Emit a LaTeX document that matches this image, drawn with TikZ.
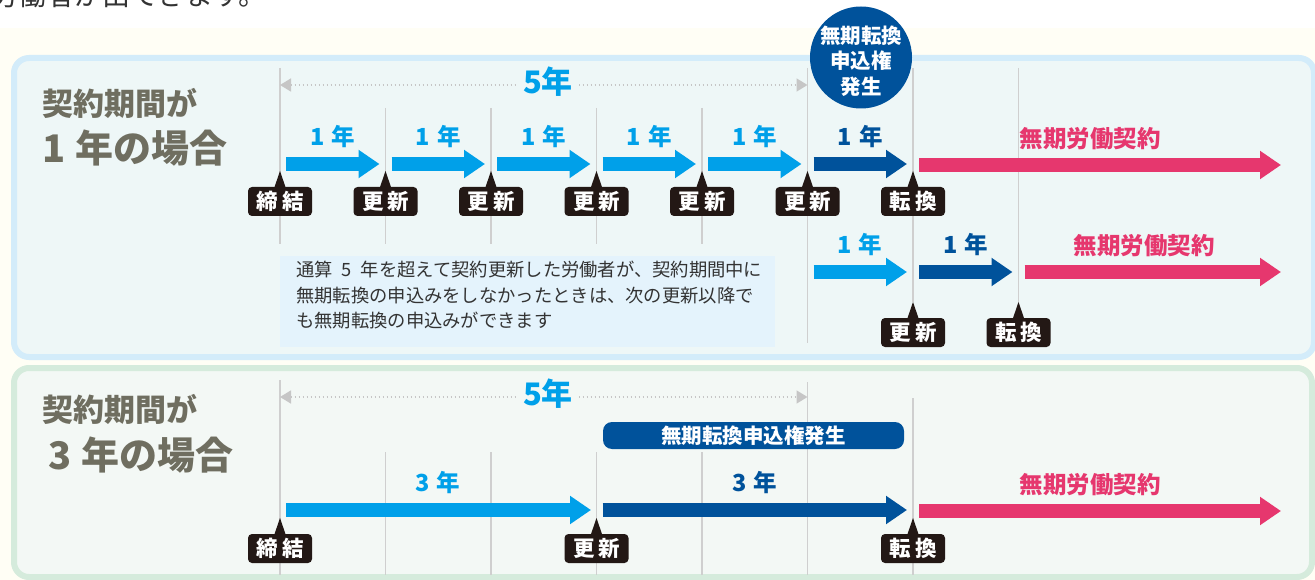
\documentclass[tikz,border=0pt]{standalone}
\usepackage{fontspec}
\newfontfamily\jp{Noto Sans CJK JP}
\usetikzlibrary{arrows.meta}
\definecolor{lb}{HTML}{00A0E9}
\definecolor{db}{HTML}{00529B}
\definecolor{pk}{HTML}{E6376E}
\definecolor{lab}{HTML}{231815}
\definecolor{ttl}{HTML}{6F6E60}
\definecolor{pAf}{HTML}{EEF7F7}
\definecolor{pAb}{HTML}{D3ECFA}
\definecolor{pBf}{HTML}{F3F8F5}
\definecolor{pBb}{HTML}{D5EBDC}
\definecolor{cream}{HTML}{FFFEF5}
\definecolor{notef}{HTML}{E4F3FC}
\definecolor{gridc}{HTML}{CFCFCF}
\definecolor{dotc}{HTML}{C6C6C6}
\definecolor{txt}{HTML}{333333}
\tikzset{
  fat/.style={line width=14pt,-{Triangle[length=21pt,width=27pt]}},
  gl/.style={draw=gridc,line width=1.3pt},
  tagbox/.style={fill=lab,text=white,rounded corners=4pt,minimum width=64pt,minimum height=29pt,inner sep=0pt,font=\jp\bfseries\fontsize{21.5}{21.5}\selectfont},
  yr/.style={font=\jp\bfseries\fontsize{23.5}{23.5}\selectfont},
  five/.style={font=\jp\bfseries\fontsize{31}{31}\selectfont,text=lb,inner sep=6pt},
  dotarrow/.style={draw=dotc,line width=1.6pt,dash pattern=on 1.6pt off 2.4pt,{Triangle[length=11pt,width=13pt]}-{Triangle[length=11pt,width=13pt]}},
  ttlA/.style={font=\jp\bfseries\fontsize{31}{31}\selectfont,text=ttl,anchor=west,inner sep=0pt},
  ttlB/.style={font=\jp\bfseries\fontsize{38}{38}\selectfont,text=ttl,anchor=west,inner sep=0pt},
  pinkt/.style={font=\jp\bfseries\fontsize{23.5}{23.5}\selectfont,text=pk},
}
\newcommand\tagnode[4]{%
  \fill[lab] ({#2-6.5},{#3+19}) -- ({#2},{#3}) -- ({#2+6.5},{#3+19}) -- cycle;
  \node[tagbox] (#1) at ({#2},{#3+30.5}) {#4};
}
\begin{document}
\begin{tikzpicture}[x=1pt,y=-1pt]
\useasboundingbox (0,0) rectangle (1315,580);
\fill[cream] (0,28) rectangle (1315,580);
\begin{scope}
\clip (0,0) rectangle (1315,580);
\node[anchor=base west,inner sep=0pt,text=txt,font=\jp\fontsize{28}{28}\selectfont] (cut) at (-10,6) {労働者が出てきます。};
% panels
\draw[pAb,line width=6pt,fill=pAf,rounded corners=15pt] (14,58) rectangle (1314,357);
\draw[pBb,line width=6pt,fill=pBf,rounded corners=15pt] (14,368) rectangle (1312,577);
\end{scope}

% ---------- top panel ----------
\node[ttlA] (tA1) at (42,103) {契約期間が};
\node[ttlB] (tA2) at (42,148) {1\hspace{10pt}年の場合};

% grid lines
\draw[gl] (280,68) -- (280,244);
\foreach \gx in {385.5,491,596.5,702} {\draw[gl] (\gx,108) -- (\gx,244);}
\draw[gl] (807.5,68) -- (807.5,343);
\draw[gl] (913,68) -- (913,302);
\draw[gl] (1018.5,68) -- (1018.5,302);

% 5 years
\coordinate (dAa) at (280,85);
\coordinate (dAb) at (807.5,85);
\draw[dotarrow] (dAa) -- (dAb);
\node[five,fill=pAf] (fA) at (548,82) {5年};

% circle
\node[circle,fill=db,minimum size=102pt,inner sep=0pt] (circ) at (861,57.5) {};
\node[text=white,align=center,font=\jp\bfseries\fontsize{20.5}{25.5}\selectfont] (circt) at (861,61) {無期転換\\申込権\\発生};

% row 1 arrows
\foreach \i/\xa/\xb/\cc in {1/286/379.5/lb,2/391.5/485/lb,3/497/590.5/lb,4/602.5/696/lb,5/708/801.5/lb,6/813.5/907/db}{
  \coordinate (ra\i) at (\xa,164);
  \coordinate (rb\i) at (\xb,164);
  \draw[fat,\cc] (ra\i) -- (rb\i);
  \node[yr,text=\cc] (ry\i) at ({(\xa+\xb)/2},137) {1\hspace{7pt}年};
}
\coordinate (rp1) at (919,165);
\coordinate (rp2) at (1281,165);
\draw[fat,pk] (rp1) -- (rp2);
\node[pinkt] (pkA) at (1090,139) {無期労働契約};

\tagnode{tgA0}{280}{171}{締\hspace{4pt}結}
\tagnode{tgA1}{385.5}{171}{更\hspace{4pt}新}
\tagnode{tgA2}{491}{171}{更\hspace{4pt}新}
\tagnode{tgA3}{596.5}{171}{更\hspace{4pt}新}
\tagnode{tgA4}{702}{171}{更\hspace{4pt}新}
\tagnode{tgA5}{807.5}{171}{更\hspace{4pt}新}
\tagnode{tgA6}{913}{171}{転\hspace{4pt}換}

% row 2
\coordinate (sa1) at (813.5,272);
\coordinate (sb1) at (907,272);
\coordinate (sa2) at (919,272);
\coordinate (sb2) at (1012.5,272);
\coordinate (sa3) at (1024.5,272);
\coordinate (sb3) at (1281,272);
\draw[fat,lb] (sa1) -- (sb1);
\draw[fat,db] (sa2) -- (sb2);
\draw[fat,pk] (sa3) -- (sb3);
\node[yr,text=lb] (sy1) at (860,245) {1\hspace{7pt}年};
\node[yr,text=db] (sy2) at (966,245) {1\hspace{7pt}年};
\node[pinkt] (pkB) at (1144,246) {無期労働契約};
\tagnode{tgB1}{913}{302}{更\hspace{4pt}新}
\tagnode{tgB2}{1018.5}{302}{転\hspace{4pt}換}

% note
\node[fill=notef,minimum width=495pt,minimum height=91pt,inner sep=0pt] (notebox) at (527.5,301.5) {};
\node[anchor=north west,inner sep=0pt,align=left,text=txt,font=\jp\fontsize{18.3}{25.5}\selectfont] (notet) at (296,261) {通算\hspace{9pt}5\hspace{9pt}年を超えて契約更新した労働者が、契約期間中に\\無期転換の申込みをしなかったときは、次の更新以降で\\も無期転換の申込みができます};

% ---------- bottom panel ----------
\node[ttlA] (tB1) at (42,409) {契約期間が};
\node[ttlB] (tB2) at (48,455) {3\hspace{10pt}年の場合};

\draw[gl] (280,380) -- (280,575);
\foreach \gx in {385.5,491,596.5,702} {\draw[gl] (\gx,452) -- (\gx,575);}
\draw[gl] (807.5,382) -- (807.5,575);
\draw[gl] (913,398) -- (913,575);

\coordinate (dBa) at (280,397);
\coordinate (dBb) at (807.5,397);
\draw[dotarrow] (dBa) -- (dBb);
\node[five,fill=pBf] (fB) at (548,394) {5年};

\node[fill=db,rounded corners=9pt,minimum width=301pt,minimum height=27pt,inner sep=0pt,text=white,font=\jp\bfseries\fontsize{20.5}{20.5}\selectfont] (banner) at (753.5,435.5) {無期転換申込権発生};

\coordinate (ua1) at (286,510);
\coordinate (ub1) at (591,510);
\coordinate (ua2) at (602.5,510);
\coordinate (ub2) at (907,510);
\coordinate (ua3) at (919,511);
\coordinate (ub3) at (1281,511);
\draw[fat,lb] (ua1) -- (ub1);
\draw[fat,db] (ua2) -- (ub2);
\draw[fat,pk] (ua3) -- (ub3);
\node[yr,text=lb] (uy1) at (438,483) {3\hspace{7pt}年};
\node[yr,text=db] (uy2) at (755,483) {3\hspace{7pt}年};
\node[pinkt] (pkC) at (1090,485) {無期労働契約};
\tagnode{tgC0}{280}{518}{締\hspace{4pt}結}
\tagnode{tgC1}{596.5}{518}{更\hspace{4pt}新}
\tagnode{tgC2}{913}{518}{転\hspace{4pt}換}
\end{tikzpicture}
\end{document}
